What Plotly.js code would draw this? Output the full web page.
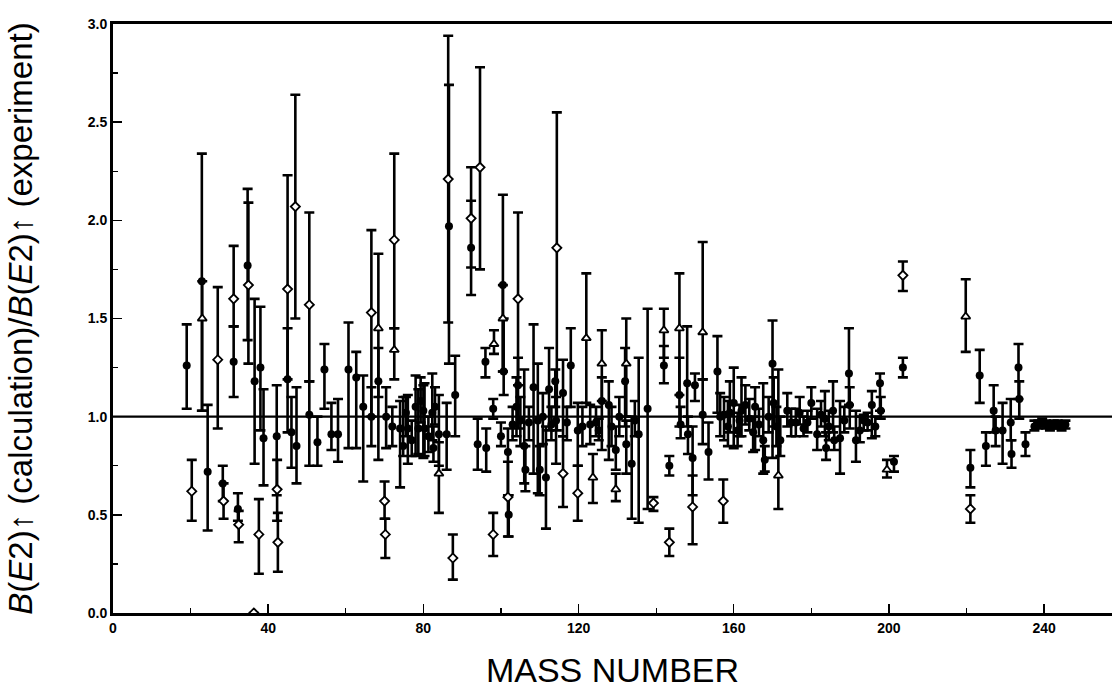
<!DOCTYPE html>
<html>
<head>
<meta charset="utf-8">
<script src="https://cdn.plot.ly/plotly-3.0.1.min.js"></script>
<style>html,body{margin:0;padding:0;background:#fff;}#chart{width:1112px;height:698px;}</style>
</head>
<body>
<div id="chart"></div>
<script>
// Filled symbols: mass number, ratio, lower bound, upper bound
const massFilled = [19.0,22.9,24.4,28.3,31.1,32.2,34.7,36.5,38.0,38.8,42.2,45.0,46.0,47.3,50.6,52.7,54.5,56.3,58.0,60.7,62.7,64.5,66.6,68.4,70.4,74.0,74.8,76.0,78.0,78.7,80.0,80.3,82.3,82.6,84.0,86.0,86.6,88.2,92.3,94.0,96.0,96.2,98.0,100.0,100.5,100.7,101.8,102.0,104.0,104.4,106.0,106.3,108.4,109.5,110.0,111.6,112.4,114.0,114.2,116.0,118.0,119.8,121.0,123.0,126.0,127.8,129.6,132.0,132.3,133.7,135.5,137.8,142.0,143.4,146.0,146.3,148.0,148.2,149.4,150.0,152.0,153.5,155.8,157.5,158.5,160.0,161.5,162.0,164.0,165.5,166.5,167.6,168.0,170.0,170.3,172.0,173.8,176.0,178.0,180.0,181.5,183.5,183.8,185.6,185.9,187.4,189.7,189.9,191.5,193.5,195.6,197.7,197.9,201.3,203.6,221.0,223.4,225.0,227.0,227.5,229.3,231.4,231.6,233.4,233.6,235.2,237.5,238.5,239.5,240.5,241.5,242.5,243.5,244.5,245.5,
  156.5,159.0,161.0,163.0,165.0,169.0,171.0,174.8,177.0,179.0,182.5,184.5,188.5,192.5,194.5,196.5,72.0,75.5,77.0,79.3,81.3,83.0,103.0,105.0,107.2,110.8,113.0,117.0,124.5,125.2,128.5,130.5,134.5];
const ratioFilled = [1.26,1.69,0.72,0.66,1.28,0.53,1.77,1.18,1.25,0.89,0.90,1.19,0.92,0.85,1.01,0.87,1.24,0.91,0.91,1.24,1.20,1.05,1.00,1.18,1.00,0.94,0.85,0.94,1.05,0.94,1.03,0.94,1.02,0.84,0.91,0.91,1.97,1.11,1.86,0.86,1.28,0.84,1.04,0.90,1.67,1.23,0.82,0.50,1.05,1.16,0.85,0.73,1.15,0.98,0.73,0.69,1.14,1.18,0.98,1.12,1.26,0.93,0.95,0.96,1.08,1.06,0.83,1.18,0.86,0.76,0.91,1.04,1.26,0.75,1.11,0.96,1.17,0.91,0.79,1.16,1.01,0.82,1.23,1.01,0.95,1.07,0.98,1.03,0.99,1.05,0.96,0.88,0.78,1.27,1.07,0.88,1.03,0.97,0.94,1.07,0.91,0.99,0.84,1.03,0.88,0.89,1.22,1.06,0.88,0.98,1.06,1.17,1.03,0.77,1.25,0.74,1.21,0.85,1.03,0.93,0.93,0.97,0.81,1.25,1.09,0.86,0.95,0.96,0.97,0.96,0.95,0.96,0.96,0.95,0.96,
  1.00,1.02,0.93,1.06,0.92,1.00,0.95,0.97,1.02,0.97,1.01,0.95,0.98,0.93,0.97,0.95,0.95,1.02,0.88,1.08,0.90,1.05,0.96,0.98,0.97,1.00,0.96,0.97,0.97,0.93,0.95,1.00,0.98];
const lowFilled = [1.04,1.03,0.42,0.57,1.10,0.47,1.39,0.76,0.93,0.65,0.60,0.92,0.74,0.66,0.75,0.75,1.04,0.83,0.77,0.84,0.84,0.67,0.85,0.78,0.84,0.64,0.80,0.76,0.80,0.81,0.79,0.80,0.88,0.77,0.75,0.73,1.27,0.90,1.62,0.73,1.20,0.72,0.99,0.85,1.23,1.11,0.60,0.39,0.90,0.94,0.66,0.62,0.71,0.61,0.60,0.43,0.93,1.05,0.76,0.90,1.05,0.75,0.85,0.86,0.83,0.78,0.73,0.95,0.71,0.48,0.46,0.53,1.17,0.70,0.95,0.89,0.95,0.81,0.60,1.08,0.86,0.68,1.02,0.88,0.85,0.84,0.90,0.90,0.93,0.83,0.90,0.71,0.72,0.79,0.95,0.80,0.95,0.90,0.90,0.99,0.83,0.90,0.78,0.92,0.83,0.71,1.06,0.94,0.77,0.93,0.89,1.03,0.99,0.72,1.20,0.64,1.07,0.75,0.92,0.85,0.76,0.88,0.74,1.09,0.99,0.80,0.93,0.94,0.95,0.94,0.93,0.94,0.94,0.93,0.94,
  0.90,0.92,0.85,0.96,0.82,0.92,0.85,0.90,0.96,0.92,0.95,0.88,0.92,0.87,0.93,0.90,0.85,0.90,0.80,0.97,0.82,0.96,0.88,0.85,0.88,0.86,0.88,0.88,0.90,0.88,0.85,0.90,0.90];
const highFilled = [1.47,2.34,1.06,0.75,1.46,0.61,2.16,1.60,1.56,1.14,1.16,1.45,1.10,1.15,1.18,1.00,1.37,1.07,1.09,1.48,1.33,1.21,1.15,1.35,1.15,1.08,1.10,1.11,1.21,1.14,1.16,1.17,1.22,0.95,1.11,1.07,2.69,1.31,2.10,0.99,1.35,0.94,1.09,0.97,2.13,1.50,0.94,0.60,1.20,1.30,1.24,0.85,1.47,1.27,0.85,0.95,1.35,1.24,1.10,1.29,1.45,1.07,1.05,1.06,1.20,1.18,0.95,1.35,0.98,1.00,1.30,1.55,1.36,0.80,1.30,1.05,1.46,1.00,0.95,1.22,1.19,0.97,1.41,1.10,1.08,1.25,1.06,1.20,1.09,1.15,1.04,1.17,0.85,1.49,1.20,1.00,1.12,1.04,1.00,1.15,1.04,1.13,0.92,1.18,0.95,1.08,1.45,1.15,1.03,1.01,1.13,1.22,1.10,0.80,1.30,0.83,1.34,0.92,1.16,1.00,1.07,1.09,0.88,1.37,1.18,0.92,0.98,0.98,0.99,0.98,0.97,0.98,0.98,0.97,0.98,
  1.12,1.18,1.02,1.16,1.00,1.10,1.05,1.04,1.10,1.03,1.08,1.03,1.05,1.00,1.02,1.00,1.05,1.10,0.98,1.20,1.00,1.15,1.05,1.10,1.05,1.12,1.05,1.05,1.05,0.99,1.05,1.10,1.08];

// Open circles
const massOpen = [20.3,27.0,28.5,31.1,32.4,34.9,36.3,37.6,42.3,42.5,45.0,47.0,50.6,66.6,70.0,70.2,72.5,86.4,87.6,92.3,94.6,98.0,101.8,104.4,114.4,116.0,119.8,139.3,143.4,149.4,157.3,203.6,221.0];
const ratioOpen = [0.62,1.29,0.57,1.60,0.45,1.67,0.00,0.40,0.63,0.36,1.65,2.07,1.57,1.53,0.57,0.40,1.90,2.21,0.28,2.01,2.27,0.40,0.59,1.60,1.86,0.71,0.61,0.56,0.36,0.54,0.57,1.72,0.53];
const lowOpen = [0.47,0.94,0.48,1.46,0.36,1.27,0.00,0.20,0.47,0.21,1.19,1.50,1.18,1.00,0.48,0.28,1.45,1.48,0.17,1.76,1.75,0.29,0.39,1.16,0.93,0.54,0.47,0.52,0.29,0.35,0.46,1.64,0.46];
const highOpen = [0.78,1.66,0.66,1.87,0.52,2.09,0.00,0.58,0.78,0.51,2.23,2.64,2.04,1.95,0.67,0.48,2.34,2.94,0.40,2.27,2.78,0.51,0.77,2.04,2.55,0.90,0.75,0.59,0.43,0.70,0.68,1.79,0.60];

// Open triangles
const massTri = [23.0,68.4,72.5,84.0,98.2,100.5,122.0,123.7,126.0,129.6,132.3,142.0,146.0,152.0,171.5,199.5,219.8];
const ratioTri = [1.50,1.45,1.34,0.71,1.37,1.50,1.40,0.69,1.27,0.63,1.27,1.44,1.45,1.43,0.70,0.73,1.51];
const lowTri = [1.03,1.10,1.19,0.51,1.32,1.23,1.07,0.56,1.08,0.57,1.00,1.30,1.11,1.19,0.53,0.69,1.33];
const highTri = [1.69,1.83,1.45,0.87,1.44,1.67,1.73,0.81,1.44,0.71,1.50,1.55,1.73,1.89,1.24,0.78,1.70];

const xTickVals = [0,40,80,120,160,200,240];
const yTickVals = [0.0,0.5,1.0,1.5,2.0,2.5,3.0];
const referenceRatio = 1.0;

function errs(v, lo, hi){
  return {
    type:'data', symmetric:false,
    array: hi.map((h,i)=>Math.max(0,h - v[i])),
    arrayminus: lo.map((l,i)=>Math.max(0,v[i] - l)),
    color:'#000', thickness:2.6, width:5
  };
}

const traces = [
  {x:massFilled, y:ratioFilled, mode:'markers', type:'scatter', name:'filled',
   error_y: errs(ratioFilled, lowFilled, highFilled),
   marker:{symbol:'circle', size:8, color:'#000'}},
  {x:massOpen, y:ratioOpen, mode:'markers', type:'scatter', name:'open',
   error_y: errs(ratioOpen, lowOpen, highOpen),
   marker:{symbol:'diamond', size:7, color:'#fff', line:{color:'#000', width:1.8}}},
  {x:massTri, y:ratioTri, mode:'markers', type:'scatter', name:'triangle',
   error_y: errs(ratioTri, lowTri, highTri),
   marker:{symbol:'triangle-up', size:8, color:'#fff', line:{color:'#000', width:1.8}}}
];

const tickFont = {family:'Liberation Sans, Arial, sans-serif', size:14, color:'#000', weight:'bold'};

const layout = {
  width:1112, height:698,
  margin:{l:113, r:0, t:24, b:85},
  paper_bgcolor:'#fff', plot_bgcolor:'#fff',
  showlegend:false,
  xaxis:{
    range:[0,257.5], tickvals:xTickVals, ticktext:xTickVals.map(String),
    ticks:'inside', ticklen:9, tickwidth:1.5, tickcolor:'#000',
    minor:{tickvals:[20,60,100,140,180,220], ticks:'inside', ticklen:5, tickwidth:1.2, tickcolor:'#000'},
    showline:true, linewidth:3, linecolor:'#000', mirror:true,
    showgrid:false, zeroline:false, tickfont:tickFont,
    title:{text:'MASS NUMBER', font:{family:'Liberation Sans Narrow, Arial Narrow, Liberation Sans, Arial, sans-serif', size:34, color:'#000'}, standoff:24}
  },
  yaxis:{
    range:[0,3.0], tickvals:yTickVals, ticktext:yTickVals.map(v=>v.toFixed(1)),
    ticks:'inside', ticklen:9, tickwidth:1.5, tickcolor:'#000',
    minor:{tickvals:[0.25,0.75,1.25,1.75,2.25,2.75], ticks:'inside', ticklen:5, tickwidth:1.2, tickcolor:'#000'},
    showline:true, linewidth:3, linecolor:'#000',
    showgrid:false, zeroline:false, tickfont:tickFont,
    title:{text:'<i>B</i>(<i>E</i>2)↑ (calculation)/<i>B</i>(<i>E</i>2)↑ (experiment)', font:{family:'Liberation Sans, Arial, sans-serif', size:33, color:'#000'}, standoff:46}
  },
  shapes:[{type:'line', xref:'paper', x0:0, x1:1, yref:'y', y0:referenceRatio, y1:referenceRatio, line:{color:'#000', width:2.4}, layer:'below'}]
};

Plotly.newPlot('chart', traces, layout, {displayModeBar:false, staticPlot:true});
</script>
</body>
</html>
